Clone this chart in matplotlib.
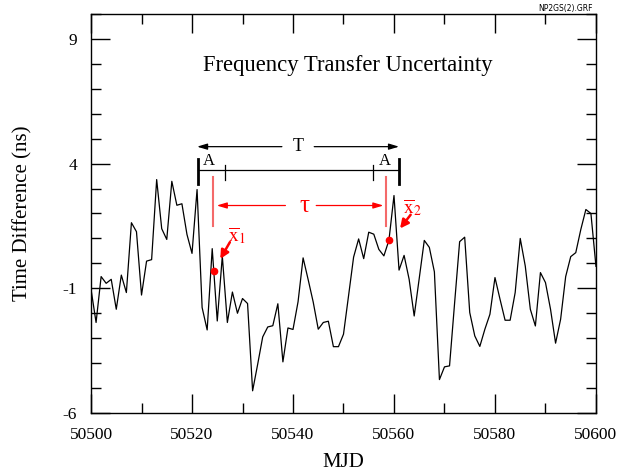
import numpy as np
import matplotlib
matplotlib.use("Agg")
from matplotlib import pyplot as plt
from matplotlib.ticker import MultipleLocator, FixedLocator

plt.rcParams['font.family'] = ['Liberation Serif', 'DejaVu Serif']
plt.rcParams['mathtext.fontset'] = 'stix'
plt.rcParams['axes.unicode_minus'] = False

# daily time differences (ns), MJD 50500 .. 50600
mjd_start, mjd_end = 50500, 50600
tdiff = [-1.04, -2.37, -0.53, -0.80, -0.64, -1.84, -0.47, -1.17, 1.63, 1.27,
         -1.27, 0.09, 0.15, 3.36, 1.39, 0.96, 3.29, 2.33, 2.39, 1.16,
         0.40, 2.96, -1.77, -2.67, 0.59, -2.31, 0.29, -2.37, -1.15, -2.00,
         -1.41, -1.61, -5.11, -4.05, -2.95, -2.55, -2.50, -1.62, -3.95, -2.59,
         -2.65, -1.54, 0.22, -0.65, -1.55, -2.64, -2.37, -2.32, -3.34, -3.34,
         -2.84, -1.30, 0.25, 0.98, 0.19, 1.25, 1.17, 0.56, 0.30, 0.93,
         2.72, -0.27, 0.32, -0.64, -2.11, -0.60, 0.92, 0.64, -0.34, -4.66,
         -4.15, -4.11, -1.60, 0.87, 1.05, -1.97, -2.91, -3.33, -2.64, -2.04,
         -0.57, -1.44, -2.28, -2.28, -1.17, 1.00, -0.11, -1.84, -2.51, -0.37,
         -0.77, -1.84, -3.20, -2.24, -0.53, 0.27, 0.43, 1.36, 2.16, 2.00,
         -0.12]
mjd = np.arange(mjd_start, mjd_end + 1)

# annotation anchors (MJD, ns)
T_span = [50521, 50561]
T_y = 4.68
A_left = [50521.2, 50526.6]
A_right = [50555.8, 50560.9]
A_y = 3.76
tau_lines = [50524.1, 50558.5]
tau_y = 2.32
xbar_pts = [(50524.3, -0.30), (50559.0, 0.93)]

red = '#ff0000'
pink = '#f46a6a'

fig = plt.figure(figsize=(6.33, 4.74), dpi=100)
ax = fig.add_axes([0.1438, 0.1287, 0.7977, 0.8418])

ax.plot(mjd, tdiff, color='k', lw=0.9)

ax.set_xlim(mjd_start, mjd_end)
ax.set_ylim(-6, 10)
ax.xaxis.set_major_locator(MultipleLocator(20))
ax.xaxis.set_minor_locator(MultipleLocator(10))
ax.yaxis.set_major_locator(FixedLocator([-6, -1, 4, 9]))
ax.yaxis.set_minor_locator(MultipleLocator(1))
ax.tick_params(which='both', direction='in', top=True, right=True, width=1, labelsize=12.5)
ax.tick_params(which='major', length=14, pad=10)
ax.tick_params(which='minor', length=7)
for s in ax.spines.values():
    s.set_linewidth(1)

ax.set_xlabel('MJD', fontsize=15)
ax.set_ylabel('Time Difference (ns)', fontsize=15)
ax.xaxis.set_label_coords(0.5, -0.1)
ax.yaxis.set_label_coords(-0.115, 0.5)

ax.text(50550.8, 7.92, 'Frequency Transfer Uncertainty', fontsize=16.3,
        ha='center', va='center')
fig.text(0.893, 0.992, 'NP2GS(2).GRF', fontsize=5.5, family='DejaVu Sans',
         ha='center', va='top')

# T arrow
ax.text(sum(T_span) / 2, T_y, 'T', fontsize=13, ha='center', va='center')
akw = dict(arrowstyle='-|>,head_length=0.6,head_width=0.18', color='k', lw=0.9,
           shrinkA=0, shrinkB=0)
ax.annotate('', xy=(T_span[0], T_y), xytext=(50537.8, T_y), arrowprops=akw)
ax.annotate('', xy=(T_span[1], T_y), xytext=(50544.2, T_y), arrowprops=akw)

# A bar
ax.plot([A_left[0], A_right[1]], [A_y, A_y], color='k', lw=0.9)
for xv in [A_left[0], A_right[1]]:
    ax.plot([xv, xv], [3.2, 4.19], color='k', lw=2)
for xv in [A_left[1], A_right[0]]:
    ax.plot([xv, xv], [3.36, 3.96], color='k', lw=0.9)
ax.text(sum(A_left) / 2 - 0.5, 4.12, 'A', fontsize=12, ha='center', va='center')
ax.text(sum(A_right) / 2 - 0.1, 4.12, 'A', fontsize=12, ha='center', va='center')

# tau
for xv in tau_lines:
    ax.plot([xv, xv], [1.5, 3.45], color=pink, lw=1.5)
ax.text(50542.3, tau_y, 'τ', fontsize=18, color=red, ha='center', va='center')
rkw = dict(arrowstyle='-|>,head_length=0.6,head_width=0.18', color=red, lw=0.9,
           shrinkA=0, shrinkB=0)
ax.annotate('', xy=(50524.9, tau_y), xytext=(50538.5, tau_y), arrowprops=rkw)
ax.annotate('', xy=(50557.9, tau_y), xytext=(50544.6, tau_y), arrowprops=rkw)

# x-bar points
for (xv, yv) in xbar_pts:
    ax.plot(xv, yv, 'o', color=red, ms=4.5)
bkw = dict(arrowstyle='-|>,head_length=0.5,head_width=0.25', color=red, lw=1.8,
           shrinkA=0, shrinkB=0)
ax.text(50528.9, 1.1, r'$\overline{\mathrm{x}}_{1}$', fontsize=14, color=red,
        ha='center', va='center')
ax.annotate('', xy=(50525.6, 0.18), xytext=(50527.5, 0.85), arrowprops=bkw)
ax.text(50563.7, 2.25, r'$\overline{\mathrm{x}}_{2}$', fontsize=14, color=red,
        ha='center', va='center')
ax.annotate('', xy=(50561.2, 1.4), xytext=(50563.3, 1.95), arrowprops=bkw)

fig.savefig('out.png', dpi=100)
